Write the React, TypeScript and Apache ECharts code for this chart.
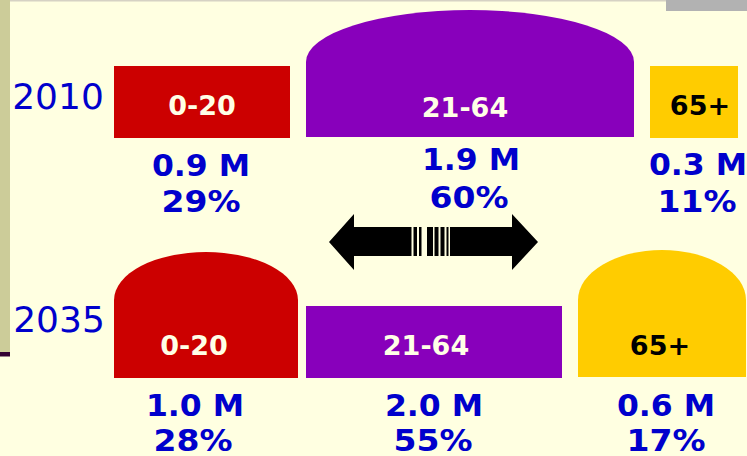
import React, { useEffect, useRef } from 'react';
import * as echarts from 'echarts';

// ---- data ----
const years = ['2010', '2035'];
const groups = ['0-20', '21-64', '65+'];
const millions2010 = [0.9, 1.9, 0.3];
const millions2035 = [1.0, 2.0, 0.6];
const share2010 = [29, 60, 11];
const share2035 = [28, 55, 17];

// ---- layout (pixel space of a 747x456 canvas) ----
const W = 747;
const H = 456;
// [x0, x1, top, bottom, domeBaseY (0 = plain rect)]
const shapeBoxes = [
  [[114, 290, 66, 138, 0], [306, 634, 10, 137, 62], [650, 738, 66, 138, 0]],
  [[114, 298, 252, 378, 300], [306, 562, 306, 378, 0], [578, 746, 250, 377, 300]],
];
const labelPos = [
  [[202, 106], [465, 108], [700, 106]],
  [[194, 346], [426, 346], [660, 346]],
];
const millionPos = [
  [[201, 165], [471, 159], [698, 164]],
  [[195, 405], [434, 405], [666, 405]],
];
const sharePos = [
  [[201, 202], [469, 198], [697, 202]],
  [[193, 441], [433, 441], [666, 441]],
];
const yearPos = [[58, 96], [59, 319]];
const groupColors = ['#CC0000', '#8800BB', '#FFCC00'];
const labelColors = ['#FFFFE6', '#FFFFE6', '#000000'];
const BG = '#FFFFE1';
const BLUE = '#0000CC';

const millions = [millions2010, millions2035];
const shares = [share2010, share2035];

export default function App() {
  const ref = useRef<HTMLDivElement>(null);

  useEffect(() => {
    document.body.style.margin = '0';
    if (!ref.current) return;
    const chart = echarts.init(ref.current, null, { renderer: 'svg' });

    const data: number[][] = [];
    years.forEach((_, yi) => groups.forEach((__, gi) => data.push([yi, gi])));

    const renderItem = (params: any, api: any) => {
      const yi = api.value(0);
      const gi = api.value(1);
      const [x0, x1, top, bottom, base] = shapeBoxes[yi][gi];
      const p0 = api.coord([x0, top]);
      const p1 = api.coord([x1, bottom]);
      const children: any[] = [];
      if (base) {
        const pb = api.coord([x0, base]);
        const rx = (p1[0] - p0[0]) / 2;
        const ry = pb[1] - p0[1];
        const d = `M ${p0[0]} ${p1[1]} L ${p0[0]} ${pb[1]} A ${rx} ${ry} 0 0 1 ${p1[0]} ${pb[1]} L ${p1[0]} ${p1[1]} Z`;
        children.push({ type: 'path', shape: { pathData: d }, style: { fill: groupColors[gi] } });
      } else {
        children.push({
          type: 'rect',
          shape: { x: p0[0], y: p0[1], width: p1[0] - p0[0], height: p1[1] - p0[1] },
          style: { fill: groupColors[gi] },
        });
      }
      const lp = api.coord(labelPos[yi][gi]);
      children.push({
        type: 'text', x: lp[0], y: lp[1], scaleX: 1.04,
        style: { text: groups[gi], fill: labelColors[gi], font: 'bold 26px "DejaVu Sans"', align: 'center', verticalAlign: 'middle' },
      });
      const mp = api.coord(millionPos[yi][gi]);
      children.push({
        type: 'text', x: mp[0], y: mp[1], scaleX: 1.05,
        style: { text: millions[yi][gi].toFixed(1) + ' M', fill: BLUE, font: 'bold 30px "DejaVu Sans"', align: 'center', verticalAlign: 'middle' },
      });
      const sp = api.coord(sharePos[yi][gi]);
      children.push({
        type: 'text', x: sp[0], y: sp[1], scaleX: 1.1,
        style: { text: shares[yi][gi] + '%', fill: BLUE, font: 'bold 30px "DejaVu Sans"', align: 'center', verticalAlign: 'middle', lineHeight: 26 },
      });
      if (gi === 0) {
        const yp = api.coord(yearPos[yi]);
        children.push({
          type: 'text', x: yp[0], y: yp[1],
          style: { text: years[yi], fill: BLUE, font: '36px "DejaVu Sans"', align: 'center', verticalAlign: 'middle' },
        });
      }
      return { type: 'group', children };
    };

    // double arrow with striped shaft
    const arrowPts = [
      [329, 242], [354, 214], [354, 227], [512, 227], [512, 214], [538, 242],
      [512, 270], [512, 256], [354, 256], [354, 270],
    ];
    const gaps = [[411.5, 413.5], [417, 419], [421.5, 427], [433, 434.5], [438.5, 440.5], [444.5, 446.5], [448.5, 450]];

    const graphic: any[] = [
      { type: 'rect', shape: { x: 0, y: 0, width: W, height: 1.5 }, style: { fill: '#D6D2C4' } },
      { type: 'rect', shape: { x: 0, y: 0, width: 10, height: 352 }, style: { fill: '#CCCC99' } },
      { type: 'rect', shape: { x: 0, y: 352, width: 10, height: 4.5 }, style: { fill: '#330033' } },
      { type: 'rect', shape: { x: 666, y: 0, width: W - 666, height: 11 }, style: { fill: '#B2B2B2' } },
      { type: 'polygon', shape: { points: arrowPts }, style: { fill: '#000000' } },
      ...gaps.map(([a, b]) => ({
        type: 'rect', shape: { x: a, y: 226, width: b - a, height: 31 }, style: { fill: BG },
      })),
    ];

    chart.setOption({
      animation: false,
      backgroundColor: BG,
      grid: { left: 0, right: 0, top: 0, bottom: 0 },
      xAxis: { type: 'value', min: 0, max: W, show: false },
      yAxis: { type: 'value', min: 0, max: H, inverse: true, show: false },
      series: [{ type: 'custom', renderItem, data, clip: false, silent: true }],
      graphic,
    });
    return () => chart.dispose();
  }, []);

  return <div ref={ref} style={{ position: 'absolute', left: 0, top: 0, width: W, height: H }} />;
}
